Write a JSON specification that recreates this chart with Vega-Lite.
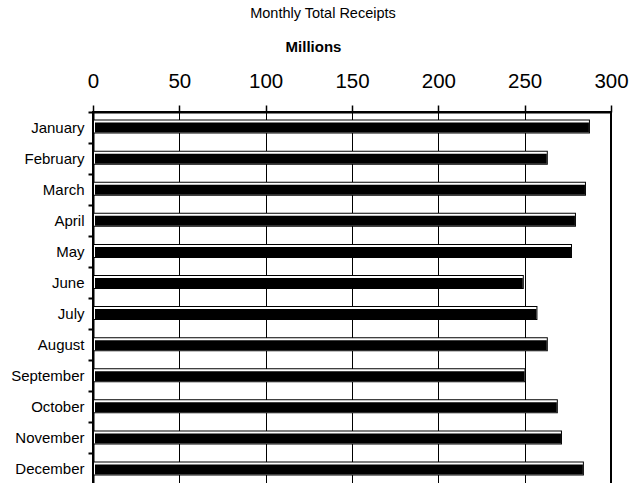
{
  "$schema": "https://vega.github.io/schema/vega-lite/v6.json",
  "autosize": {"type": "none"},
  "padding": {"left": 93, "top": 112, "right": 32, "bottom": 0},
  "width": 518,
  "height": 373,
  "background": "white",
  "title": {
    "text": "Monthly Total Receipts",
    "font": "Liberation Sans",
    "fontSize": 14.5,
    "fontWeight": "normal",
    "color": "black",
    "anchor": "middle",
    "dx": -29,
    "offset": 18
  },
  "data": {
    "values": [
      {"month": "January", "receipts": 287.8},
      {"month": "February", "receipts": 263.4},
      {"month": "March", "receipts": 285.5},
      {"month": "April", "receipts": 279.7},
      {"month": "May", "receipts": 277.4},
      {"month": "June", "receipts": 249.5},
      {"month": "July", "receipts": 257.4},
      {"month": "August", "receipts": 263.4},
      {"month": "September", "receipts": 250.5},
      {"month": "October", "receipts": 269.2},
      {"month": "November", "receipts": 271.6},
      {"month": "December", "receipts": 284.3}
    ]
  },
  "encoding": {
    "y": {
      "field": "month",
      "type": "nominal",
      "sort": null,
      "scale": {"paddingInner": 0, "paddingOuter": 0},
      "axis": {
        "title": null,
        "bandPosition": 0,
        "tickSize": 5,
        "tickWidth": 2,
        "tickColor": "black",
        "domainColor": "black",
        "domainWidth": 2,
        "labelPadding": 4,
        "labelFont": "Liberation Sans",
        "labelFontSize": 15,
        "labelColor": "black",
        "grid": false
      }
    },
    "x": {
      "field": "receipts",
      "type": "quantitative",
      "scale": {"domain": [0, 300], "nice": false},
      "axis": {
        "orient": "top",
        "title": "Millions",
        "titleFont": "Liberation Sans",
        "titleFontSize": 15,
        "titleFontWeight": "bold",
        "titleColor": "black",
        "titleX": 220,
        "titleAlign": "center",
        "titlePadding": 17,
        "values": [0, 50, 100, 150, 200, 250, 300],
        "labelFont": "Liberation Sans",
        "labelFontSize": 20.5,
        "labelColor": "black",
        "labelBaseline": "alphabetic",
        "labelPadding": 18,
        "labelFlush": false,
        "tickSize": 7,
        "tickWidth": 1.5,
        "tickColor": "black",
        "domainColor": "black",
        "domainWidth": 2,
        "grid": true,
        "gridColor": "black",
        "gridWidth": 1,
        "gridOpacity": 1
      }
    },
    "x2": {"datum": 0}
  },
  "layer": [
    {"mark": {"type": "bar", "height": 14, "yOffset": -1, "fill": "black", "opacity": 1}},
    {"mark": {"type": "bar", "height": 12, "yOffset": -1, "xOffset": -1, "x2Offset": 1, "fill": "white", "opacity": 1}},
    {"mark": {"type": "bar", "height": 10, "yOffset": 0, "xOffset": -1, "x2Offset": 2, "fill": "black", "opacity": 1}}
  ],
  "config": {
    "view": {"stroke": "black", "strokeWidth": 2}
  }
}
